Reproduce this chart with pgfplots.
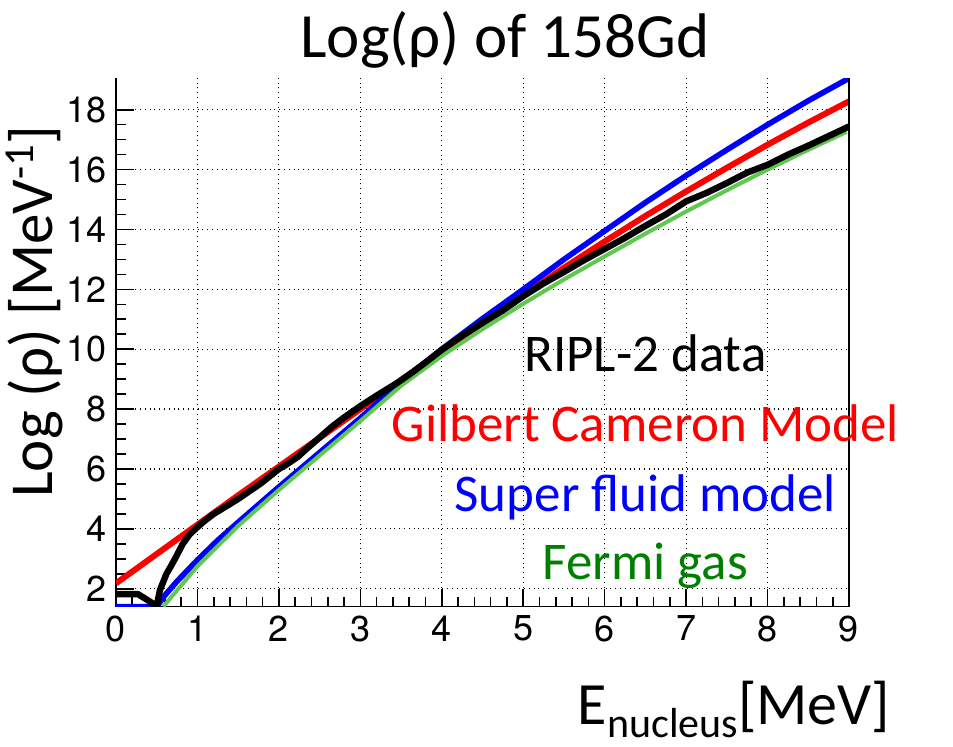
\documentclass[border=0pt]{standalone}
\usepackage{fontspec}
\setmainfont{Carlito}
\newfontfamily\heros{TeX Gyre Heros}
\usepackage{pgfplots}
\pgfplotsset{compat=1.18}

\definecolor{fermiline}{RGB}{96,200,80}
\definecolor{fermitext}{RGB}{0,128,0}

\begin{document}
\begin{tikzpicture}
\useasboundingbox (0,0) rectangle (476.5pt,373.5pt);
\begin{axis}[
  at={(58pt,70.15pt)}, anchor=south west,
  scale only axis, width=366.5pt, height=264.2pt,
  xmin=0, xmax=9, ymin=1.4, ymax=19.05,
  xtick={0,...,9}, ytick={2,4,...,18},
  minor x tick num=4, minor y tick num=3,
  axis x line*=bottom, axis y line*=left,
  axis line style={line width=0.8pt},
  tick align=inside,
  major tick length=9pt, minor tick length=5pt,
  every tick/.style={black, line width=0.8pt},
  grid=major,
  major grid style={black, dotted, line width=0.6pt},
  /pgf/number format/assume math mode=true,
  ticklabel style={font=\heros\fontsize{18}{18}\selectfont},
  xticklabel style={yshift=-1pt},
  yticklabel style={xshift=-1pt},
  clip mode=individual,
]
% Gilbert-Cameron level density
\addplot[red, line width=3pt] coordinates {
  (0,2.18) (0.5,3.16) (1,4.14) (1.5,5.12) (2,6.08) (2.5,7.04) (3,8.0)
  (3.5,8.96) (4,9.93) (4.5,10.88) (5,11.8) (5.5,12.72) (6,13.6)
  (6.5,14.45) (7,15.27) (7.5,16.06) (8,16.83) (8.5,17.57) (9,18.28)
};
% superfluid model
\addplot[blue, line width=2.8pt] coordinates {
  (0,1.4) (0.5,1.4) (0.6,1.78) (0.75,2.25) (1,2.96) (1.25,3.62) (1.5,4.22)
  (2,5.4) (2.5,6.55) (3,7.7) (3.5,8.9) (4,10.0) (4.5,11.02) (5,12.0)
  (5.5,13.0) (6,13.95) (6.5,14.9) (7,15.8) (7.5,16.66) (8,17.5)
  (8.5,18.3) (9,19.05)
};
% Fermi gas
\addplot[fermiline, line width=2pt] coordinates {
  (0.58,1.4) (0.75,1.95) (1,2.75) (1.5,4.1) (2,5.3) (2.5,6.45) (3,7.6)
  (3.5,8.78) (4,9.77) (4.5,10.67) (5,11.52) (5.5,12.33) (6,13.1)
  (6.5,13.86) (7,14.6) (7.5,15.31) (8,16.0) (8.5,16.66) (8.97,17.26)
};
% RIPL-2 data
\addplot[black, line width=3.2pt, line join=round] coordinates {
  (0,1.82) (0.27,1.82) (0.4,1.6) (0.5,1.42) (0.54,1.96) (0.62,2.5)
  (0.68,2.78) (0.74,3.08) (0.82,3.5) (0.9,3.8) (0.96,3.96) (1.08,4.25)
  (1.2,4.5) (1.37,4.78) (1.5,5.0) (1.78,5.52) (2.0,6.0) (2.1,6.16)
  (2.23,6.4) (2.36,6.72) (2.5,7.05) (2.65,7.41) (2.8,7.72) (3.0,8.1)
  (3.2,8.45) (3.45,8.87) (3.65,9.25) (3.82,9.6) (4.0,9.98) (4.25,10.45)
  (4.5,10.88) (4.75,11.3) (5.0,11.77) (5.25,12.2) (5.5,12.58)
  (5.75,12.98) (6.0,13.35) (6.25,13.72) (6.5,14.12) (6.75,14.5)
  (7.0,14.94) (7.25,15.22) (7.5,15.55) (7.75,15.9) (8.0,16.16)
  (8.25,16.5) (8.5,16.8) (8.75,17.12) (9.0,17.44)
};
\draw[line width=0.8pt] (rel axis cs:1,0) -- (rel axis cs:1,1);
\node[anchor=base, font=\fontsize{26.5}{26.5}\selectfont, black]
  at (axis cs:6.5,9.25) {RIPL-2 data};
\node[anchor=base, font=\fontsize{26.5}{26.5}\selectfont, red]
  at (axis cs:6.5,6.91) {Gilbert Cameron Model};
\node[anchor=base, font=\fontsize{26.5}{26.5}\selectfont, blue]
  at (axis cs:6.5,4.58) {Super fluid model};
\node[anchor=base, font=\fontsize{26.5}{26.5}\selectfont, fermitext]
  at (axis cs:6.5,2.31) {Fermi gas};
\end{axis}
\node[anchor=base, font=\fontsize{31.5}{31.5}\selectfont]
  at (252.5pt,344.5pt) {Log(ρ) of 158Gd};
\node[anchor=base, rotate=90, font=\fontsize{30.5}{30.5}\selectfont]
  at (26pt,217.75pt) {Log (ρ) [MeV\textsuperscript{-1}]};
\node[anchor=base, font=\fontsize{30}{30}\selectfont]
  at (367pt,11pt) {E\raisebox{-6.5pt}{\fontsize{21}{21}\selectfont nucleus}[MeV]};
\end{tikzpicture}
\end{document}
